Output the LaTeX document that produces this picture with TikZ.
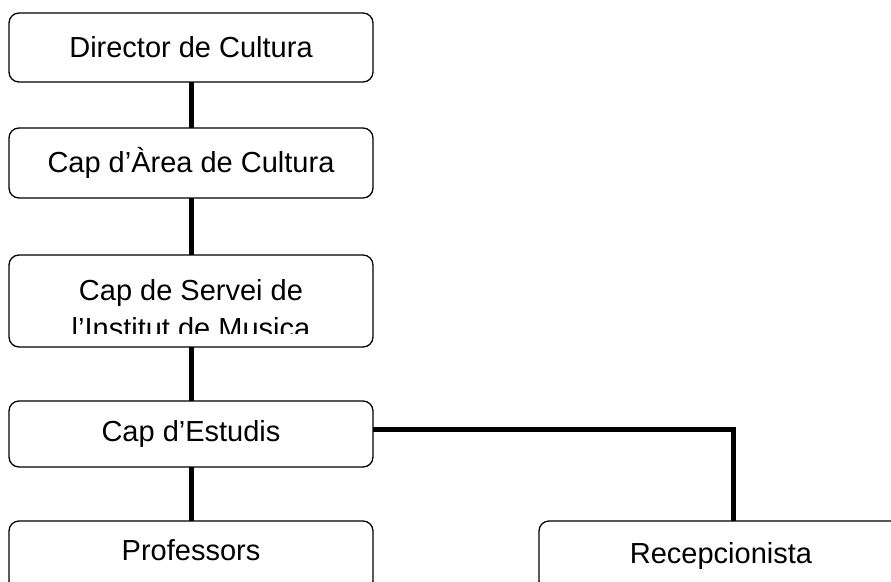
\documentclass[tikz,border=0pt]{standalone}
\usepackage{fontspec}
\setmainfont{Liberation Sans}
\usetikzlibrary{positioning}
\tikzset{org node/.style={rectangle, draw, rounded corners=10pt, line width=1.3pt, outer sep=0pt, inner sep=0pt, minimum width=364pt, font=\fontsize{29}{38}\selectfont, align=center},
  link/.style={line width=5pt},}

\begin{document}
\begin{tikzpicture}[x=1pt, y=1pt]
        \useasboundingbox (0,0) rectangle (891,-581);
        % Boxes
        \node[org node, minimum height=69pt] (director) at (191,-47.5) {Director de Cultura};
        \node[org node, minimum height=70pt] [below=46pt of director] (area) {Cap d’Àrea de Cultura};
        \node[org node, minimum height=92pt] [below=57pt of area] (servei) {};
        \node[org node, minimum height=66pt] [below=54pt of servei] (estudis) {Cap d’Estudis};
        \node[org node, minimum height=70pt, text depth=12pt] [below=54pt of estudis] (professors) {Professors};
        \node[org node, minimum height=70pt] [right=166pt of professors] (recep) {Recepcionista};
        \begin{scope}
            \clip (servei.north west) rectangle ([yshift=14pt]servei.south east);
            \node[font=\fontsize{29}{38}\selectfont, align=center] (serveitext) at ([yshift=-8pt]servei.center) {Cap de Servei de\\l’Institut de Musica};
        \end{scope}
        % Links
        \draw[link] (director) -- (area);
        \draw[link] (area) -- (servei);
        \draw[link] (servei) -- (estudis);
        \draw[link] (estudis) -- (professors);
        \draw[link] ([yshift=5pt]estudis.east) -| ([xshift=12pt]recep.north);
\end{tikzpicture}
\end{document}
